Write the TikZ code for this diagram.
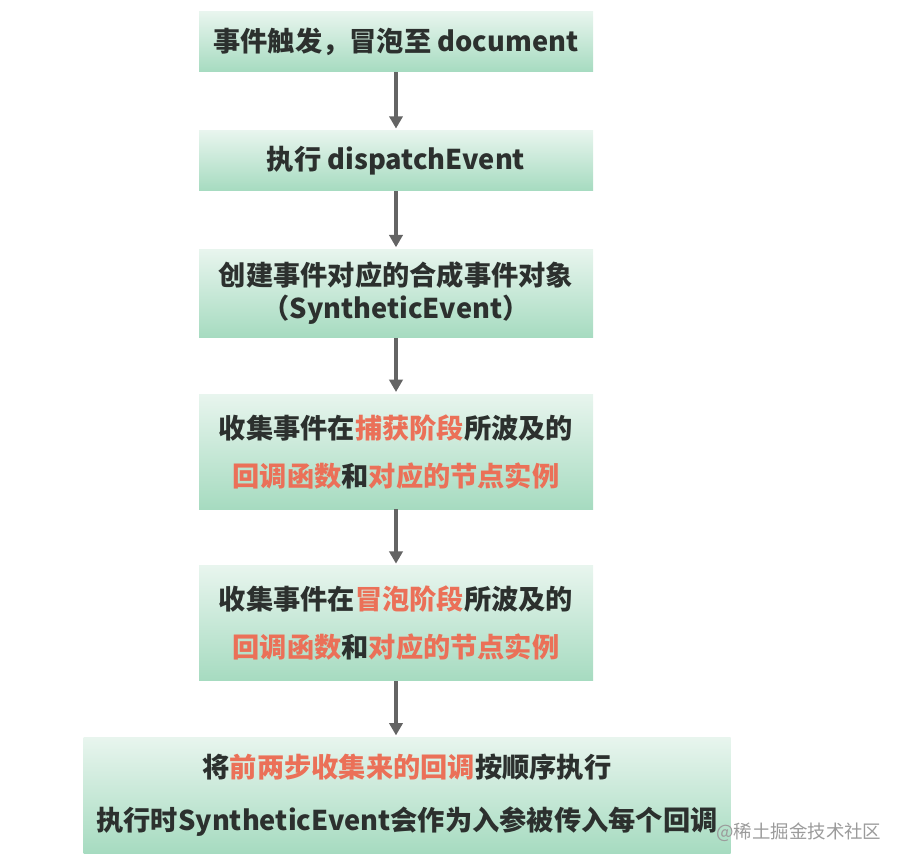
\documentclass[tikz,border=0pt]{standalone}
\usepackage{fontspec}
\usepackage{xcolor}
\usetikzlibrary{positioning, arrows.meta}
\newfontfamily\cjk{Noto Sans CJK SC}
\definecolor{boxtop}{RGB}{232,245,238}
\definecolor{boxbot}{RGB}{166,219,192}
\definecolor{txt}{RGB}{44,48,46}
\definecolor{hl}{RGB}{235,112,88}
\definecolor{arr}{RGB}{100,100,100}
\definecolor{wmgray}{RGB}{155,155,155}
\newcommand{\hi}[1]{\textcolor{hl}{#1}}
\tikzstyle{stepbox} = [rectangle, minimum width=7.88cm, inner sep=0pt, text centered, align=center, top color=boxtop, bottom color=boxbot, text=txt, font=\cjk\bfseries\fontsize{15.5}{18.8}\selectfont]
\tikzstyle{arrow} = [line width=2pt, draw=arr, -{Triangle[width=7.5pt,length=7pt]}, shorten >=1pt]

\begin{document}
\begin{tikzpicture}[node distance=1.16cm]
	\useasboundingbox (0,0) rectangle (18,-17.3);
	\node (s1) [stepbox, minimum height=1.2cm] at (7.92,-0.84) {事件触发，冒泡至 document};
	\node (s2) [stepbox, minimum height=1.2cm, below=of s1] {执行 dispatchEvent};
	\node (s3) [stepbox, minimum height=1.76cm, below=of s2] {创建事件对应的合成事件对象\\（SyntheticEvent）};
	\node (s4) [stepbox, minimum height=2.3cm, below=1.12cm of s3] {收集事件在\hi{捕获阶段}所波及的\\[8.5pt]\hi{回调函数}和\hi{对应的节点实例}};
	\node (s5) [stepbox, minimum height=2.3cm, below=1.12cm of s4] {收集事件在\hi{冒泡阶段}所波及的\\[8.5pt]\hi{回调函数}和\hi{对应的节点实例}};
	\node (s6) [stepbox, minimum height=2.32cm, minimum width=12.94cm, below=1.12cm of s5, xshift=0.22cm] {将\hi{前两步收集来的回调}按顺序执行\\[11.3pt]执行时SyntheticEvent会作为入参被传入每个回调};
	\node (wm) [font=\cjk\fontsize{10.5}{12}\selectfont, text=wmgray, anchor=west, inner sep=0pt] at (14.32,-16.64) {@稀土掘金技术社区};
	%连接各步骤
	\draw [arrow](s1) -- (s2);
	\draw [arrow](s2) -- (s3);
	\draw [arrow](s3) -- (s4);
	\draw [arrow](s4) -- (s5);
	\draw [arrow](s5.south) -- (s5.south |- s6.north);
\end{tikzpicture}
\end{document}
